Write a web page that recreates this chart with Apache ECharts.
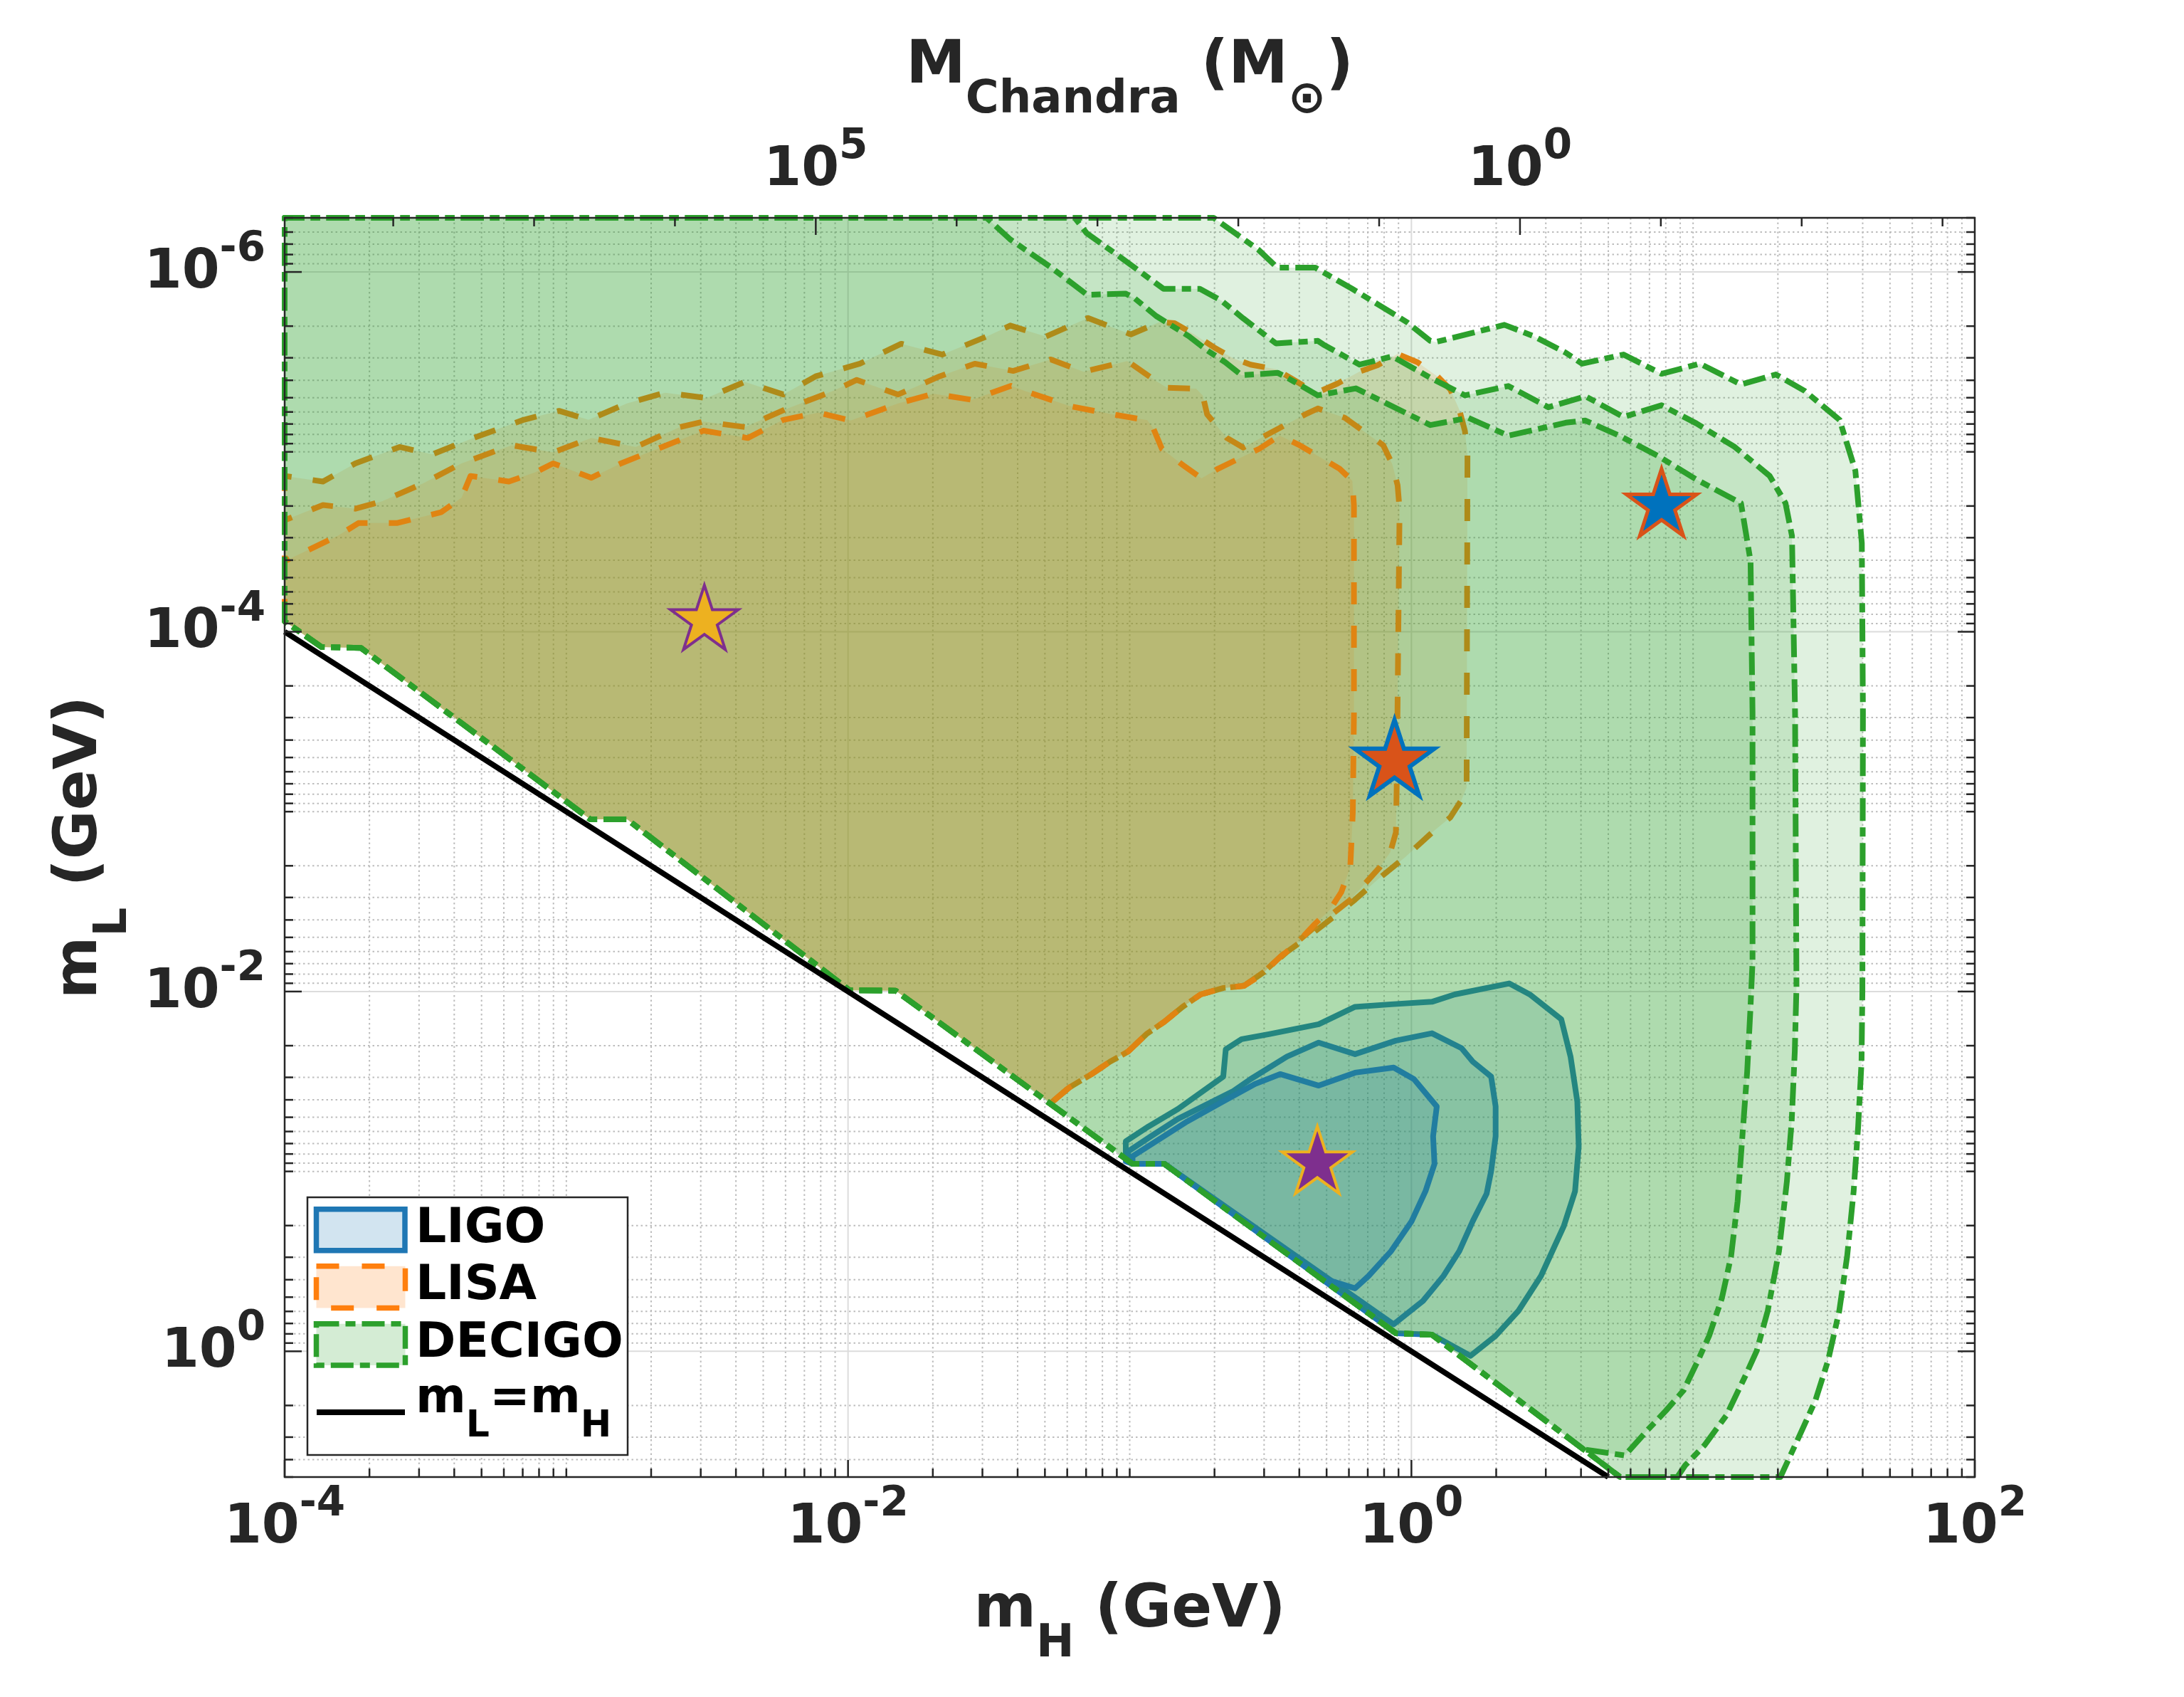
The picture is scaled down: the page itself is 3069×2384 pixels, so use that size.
<!DOCTYPE html>
<html><head><meta charset="utf-8">
<script src="https://cdn.jsdelivr.net/npm/echarts@6/dist/echarts.min.js"></script>
<style>html,body{margin:0;padding:0;background:#fff}#c{width:3069px;height:2384px}</style>
</head><body><div id="c"></div>
<script>
// ---------- DATA (all contour points are [log10 m_H, log10 m_L], GeV) ----------
const X_RANGE = [1e-4, 1e2];          // m_H axis limits (GeV)
const Y_RANGE = [5e-7, 5];            // m_L axis limits (GeV), reversed axis
const CHANDRA_LOG10_AT_1GEV = 0.771;  // log10 M_Chandra (Msun) at m_H = 1 GeV, M ~ m_H^-2
const TOP_LABELS = [0, 5];            // log10 M_Chandra labels
const LINE_MH = [1e-4, 5];            // m_L = m_H reference line
const LINE_ML = [1e-4, 5];

// DECIGO shared lower boundary (near the diagonal)
const DEC_LOWER = [[-4.000,-4.058],[-3.869,-3.915],[-3.729,-3.910],[-2.915,-2.957],[-2.784,-2.957],[-1.995,-2.007],[-1.831,-2.005],[-0.990,-1.042],[-0.877,-1.042],[-0.055,-0.100],[0.073,-0.092],[0.611,0.545]];
const DEC_BOTTOM_CORNER = [[0.741,0.699]];
const DEC_TOP_LEFT = [[-4.000,-6.301]];
const D1_RIGHT = [[-1.508,-6.301],[-1.424,-6.181],[-1.278,-6.024],[-1.151,-5.873],[-1.015,-5.880],[-0.983,-5.854],[-0.906,-5.755],[-0.790,-5.643],[-0.725,-5.564],[-0.661,-5.498],[-0.603,-5.426],[-0.474,-5.439],[-0.442,-5.413],[-0.332,-5.314],[-0.197,-5.353],[0.067,-5.149],[0.202,-5.189],[0.344,-5.090],[0.548,-5.162],[0.618,-5.174],[0.742,-5.087],[0.877,-4.976],[1.012,-4.846],[1.170,-4.715],[1.204,-4.392],[1.211,-3.550],[1.211,-2.164],[1.203,-1.887],[1.192,-1.555],[1.175,-1.195],[1.158,-0.834],[1.135,-0.530],[1.102,-0.294],[1.057,-0.086],[1.017,0.052],[0.966,0.218],[0.904,0.329],[0.837,0.440],[0.758,0.579]];
const D2_RIGHT = [[-1.195,-6.301],[-1.153,-6.216],[-1.017,-6.064],[-0.880,-5.906],[-0.751,-5.906],[-0.674,-5.840],[-0.597,-5.742],[-0.481,-5.603],[-0.332,-5.617],[-0.313,-5.597],[-0.184,-5.485],[-0.068,-5.531],[0.074,-5.406],[0.190,-5.314],[0.344,-5.366],[0.486,-5.248],[0.618,-5.309],[0.753,-5.194],[0.888,-5.259],[1.012,-5.158],[1.148,-5.027],[1.272,-4.866],[1.328,-4.715],[1.351,-4.533],[1.362,-3.550],[1.367,-2.026],[1.361,-1.666],[1.350,-1.278],[1.333,-0.945],[1.305,-0.557],[1.265,-0.225],[1.226,-0.003],[1.186,0.135],[1.118,0.357],[1.040,0.523],[0.972,0.634],[0.944,0.699]];
const D3_RIGHT = [[-0.702,-6.301],[-0.544,-6.125],[-0.476,-6.024],[-0.341,-6.024],[-0.210,-5.906],[-0.120,-5.821],[-0.017,-5.722],[0.067,-5.617],[0.088,-5.611],[0.330,-5.706],[0.434,-5.643],[0.548,-5.551],[0.606,-5.490],[0.753,-5.541],[0.888,-5.434],[1.024,-5.490],[1.170,-5.375],[1.294,-5.430],[1.396,-5.339],[1.520,-5.178],[1.576,-4.896],[1.599,-4.493],[1.603,-3.550],[1.601,-1.998],[1.598,-1.610],[1.586,-1.250],[1.570,-0.890],[1.547,-0.530],[1.519,-0.225],[1.479,0.052],[1.434,0.274],[1.378,0.468],[1.310,0.699]];

// LISA contours (outline from left edge, across the top, down the right side)
const L1_EDGE = [[-4.000,-4.392],[-3.811,-4.533],[-3.738,-4.604],[-3.602,-4.604],[-3.445,-4.664],[-3.372,-4.745],[-3.340,-4.866],[-3.204,-4.835],[-3.110,-4.886],[-3.047,-4.936],[-2.911,-4.856],[-2.806,-4.936],[-2.660,-5.027],[-2.513,-5.118],[-2.356,-5.077],[-2.230,-5.178],[-2.105,-5.218],[-1.990,-5.174],[-1.822,-5.269],[-1.696,-5.323],[-1.560,-5.289],[-1.421,-5.367],[-1.376,-5.340],[-1.215,-5.255],[-1.060,-5.208],[-0.938,-5.176],[-0.916,-5.130],[-0.886,-5.018],[-0.816,-4.932],[-0.745,-4.853],[-0.687,-4.906],[-0.539,-5.018],[-0.468,-5.090],[-0.397,-5.037],[-0.255,-4.906],[-0.210,-4.840],[-0.204,-4.702],[-0.204,-3.550],[-0.208,-2.996],[-0.217,-2.691],[-0.249,-2.552],[-0.289,-2.455],[-0.345,-2.372],[-0.410,-2.262],[-0.466,-2.192],[-0.530,-2.095]];
const L2_EDGE = [[-4.000,-4.620],[-3.864,-4.704],[-3.749,-4.684],[-3.654,-4.725],[-3.508,-4.825],[-3.372,-4.936],[-3.194,-5.037],[-3.047,-4.997],[-2.911,-5.077],[-2.754,-5.027],[-2.597,-5.138],[-2.513,-5.168],[-2.366,-5.138],[-2.220,-5.238],[-2.052,-5.339],[-1.969,-5.400],[-1.822,-5.319],[-1.675,-5.420],[-1.550,-5.490],[-1.414,-5.450],[-1.280,-5.514],[-1.164,-5.445],[-1.009,-5.505],[-0.906,-5.393],[-0.867,-5.356],[-0.764,-5.351],[-0.741,-5.314],[-0.725,-5.208],[-0.655,-5.077],[-0.597,-5.024],[-0.519,-5.090],[-0.377,-5.208],[-0.332,-5.241],[-0.236,-5.189],[-0.100,-5.037],[-0.068,-4.932],[-0.049,-4.814],[-0.042,-4.682],[-0.052,-3.162],[-0.055,-2.885],[-0.075,-2.774],[-0.112,-2.691],[-0.160,-2.608],[-0.216,-2.511],[-0.273,-2.441],[-0.350,-2.350],[-0.440,-2.230],[-0.530,-2.100]];
const L3_EDGE = [[-4.000,-4.866],[-3.864,-4.835],[-3.749,-4.936],[-3.592,-5.027],[-3.476,-4.986],[-3.330,-5.077],[-3.152,-5.178],[-3.026,-5.228],[-2.921,-5.178],[-2.785,-5.269],[-2.649,-5.329],[-2.503,-5.299],[-2.366,-5.389],[-2.230,-5.319],[-2.115,-5.420],[-1.958,-5.490],[-1.811,-5.601],[-1.665,-5.541],[-1.508,-5.641],[-1.424,-5.702],[-1.298,-5.641],[-1.148,-5.744],[-0.996,-5.653],[-0.893,-5.722],[-0.841,-5.715],[-0.771,-5.653],[-0.700,-5.580],[-0.629,-5.518],[-0.571,-5.485],[-0.481,-5.459],[-0.416,-5.399],[-0.339,-5.327],[-0.262,-5.380],[-0.184,-5.446],[-0.120,-5.482],[-0.049,-5.544],[0.022,-5.498],[0.093,-5.419],[0.138,-5.347],[0.170,-5.235],[0.190,-5.116],[0.199,-4.985],[0.196,-3.134],[0.178,-3.065],[0.138,-2.968],[0.074,-2.885],[-0.023,-2.746],[-0.120,-2.622],[-0.200,-2.511],[-0.265,-2.428],[-0.345,-2.331],[-0.442,-2.220],[-0.523,-2.109]];
const LISA_LOWER = [[-0.595,-2.031],[-0.667,-2.020],[-0.748,-1.984],[-0.812,-1.915],[-0.877,-1.832],[-0.941,-1.763],[-1.006,-1.666],[-1.070,-1.610],[-1.135,-1.541],[-1.215,-1.466],[-1.280,-1.380]];

// LIGO contours (closed)
const G1 = [[-0.990,-1.084],[-0.893,-1.181],[-0.796,-1.278],[-0.668,-1.389],[-0.555,-1.486],[-0.466,-1.541],[-0.329,-1.477],[-0.200,-1.549],[-0.063,-1.577],[0.009,-1.513],[0.090,-1.361],[0.077,-1.195],[0.082,-1.042],[0.050,-0.890],[0.001,-0.724],[-0.072,-0.557],[-0.152,-0.419],[-0.200,-0.350],[-0.313,-0.405],[-0.877,-1.042],[-0.990,-1.042]];
const G2 = [[-1.006,-1.111],[-0.925,-1.195],[-0.829,-1.292],[-0.635,-1.444],[-0.571,-1.513],[-0.442,-1.638],[-0.329,-1.716],[-0.200,-1.652],[-0.055,-1.727],[0.073,-1.768],[0.178,-1.685],[0.218,-1.610],[0.283,-1.527],[0.299,-1.361],[0.299,-1.195],[0.283,-1.001],[0.267,-0.876],[0.218,-0.724],[0.170,-0.557],[0.114,-0.419],[0.041,-0.280],[-0.063,-0.150],[-0.877,-1.042],[-0.990,-1.042],[-1.006,-1.080]];
const G3 = [[-1.014,-1.167],[-0.933,-1.250],[-0.829,-1.347],[-0.668,-1.527],[-0.659,-1.679],[-0.603,-1.735],[-0.506,-1.763],[-0.329,-1.818],[-0.200,-1.915],[-0.072,-1.929],[0.073,-1.943],[0.154,-1.984],[0.347,-2.045],[0.420,-1.984],[0.532,-1.846],[0.565,-1.638],[0.589,-1.388],[0.594,-1.139],[0.581,-0.890],[0.541,-0.696],[0.460,-0.419],[0.380,-0.225],[0.299,-0.086],[0.210,0.025],[0.073,-0.092],[-0.055,-0.100],[-0.877,-1.042],[-0.990,-1.042],[-1.014,-1.056]];

// Benchmark stars [log10 m_H, log10 m_L]
const STAR_POS = [[-2.51,-4.08],[-0.06,-3.30],[0.888,-4.72],[-0.334,-1.064]];
const STAR_FILL = ['#EDB120','#D95319','#0072BD','#7E2F8E'];
const STAR_EDGE = ['#7E2F8E','#0072BD','#D95319','#EDB120'];
const STAR_SIZE = [95,112,99,99];
const STAR_EDGE_W = [4,6,5,4];

const LEGEND_NAMES = ['LIGO','LISA','DECIGO'];

// ---------- STYLE ----------
const FONT = '"DejaVu Sans", sans-serif';
const AX = '#262626';
const C_BLUE='#1f77b4', C_ORANGE='#ff7f0e', C_GREEN='#2ca02c';
const F_BLUE='rgba(31,119,180,0.15)', F_ORANGE='rgba(255,127,14,0.15)', F_GREEN='rgba(44,160,44,0.15)';
const LW = 8;
const DASH_LISA = [31, 30];
const DASH_DEC = [32, 9, 13, 9];

const lg = p => [Math.pow(10, p[0]), Math.pow(10, p[1])];
const rev = a => a.slice().reverse();
const decLowerLeftOf = x => DEC_LOWER.filter(p => p[0] < x);

function areaSeries(name, fillPts, strokePts, fillColor, lineColor, dash, z) {
  return {
    type: 'custom', name, xAxisIndex: 0, yAxisIndex: 0, z, silent: true, clip: false,
    data: [[1, 1e-3]],
    renderItem(params, api) {
      const px = pts => pts.map(p => api.coord(lg(p)));
      const ch = [{ type: 'polygon', shape: { points: px(fillPts) },
        style: { fill: fillColor, stroke: strokePts ? null : lineColor, lineWidth: LW, lineDash: dash, lineJoin: 'round' } }];
      if (strokePts) ch.push({ type: 'polyline', shape: { points: px(strokePts) },
        style: { fill: null, stroke: lineColor, lineWidth: LW, lineDash: dash, lineJoin: 'round' } });
      return { type: 'group', children: ch };
    }
  };
}
// start on the shared lower boundary so all DECIGO contours have the same dash phase there
function decPoly(right, toBottom) {
  return rev(DEC_LOWER).concat(DEC_TOP_LEFT, right, toBottom ? DEC_BOTTOM_CORNER : []);
}
function lisaFill(edge) { return edge.concat(LISA_LOWER, rev(decLowerLeftOf(-1.28))); }
function lisaStroke(edge) { return [DEC_LOWER[0]].concat(edge, LISA_LOWER); }

function logTicks(lo, hi) {
  const out = [];
  for (let e = Math.floor(Math.log10(lo)) - 1; e <= Math.ceil(Math.log10(hi)); e++) {
    for (let k = 1; k <= 9; k++) {
      const v = k * Math.pow(10, e);
      if (v >= lo * (1 - 1e-9) && v <= hi * (1 + 1e-9)) out.push({ v, major: k === 1 && e % 2 === 0 });
    }
  }
  return out;
}
const XT = logTicks(X_RANGE[0], X_RANGE[1]);
const YT = logTicks(Y_RANGE[0], Y_RANGE[1]);
const TOP_MIN = CHANDRA_LOG10_AT_1GEV - 2 * Math.log10(X_RANGE[1]);
const TOP_MAX = CHANDRA_LOG10_AT_1GEV - 2 * Math.log10(X_RANGE[0]);

const gridSeries = {
  type: 'custom', xAxisIndex: 0, yAxisIndex: 0, z: 1, silent: true, clip: false, data: [[1, 1e-3]],
  renderItem(params, api) {
    const cs = params.coordSys, ch = [];
    const st = t => t.major ? { stroke: '#dcdcdc', lineWidth: 2 } : { stroke: '#bdbdbd', lineWidth: 2, lineDash: [2.5, 4] };
    XT.forEach(t => { const x = api.coord([t.v, 1])[0];
      ch.push({ type: 'line', shape: { x1: x, y1: cs.y, x2: x, y2: cs.y + cs.height }, style: st(t) }); });
    YT.forEach(t => { const y = api.coord([1, t.v])[1];
      ch.push({ type: 'line', shape: { x1: cs.x, y1: y, x2: cs.x + cs.width, y2: y }, style: st(t) }); });
    return { type: 'group', children: ch };
  }
};
const frameSeries = {
  type: 'custom', xAxisIndex: 0, yAxisIndex: 0, z: 90, silent: true, clip: false, data: [[1, 1e-3]],
  renderItem(params, api) {
    const cs = params.coordSys, ch = [], s = { stroke: AX, lineWidth: 2.5 };
    const B = cs.y + cs.height, R = cs.x + cs.width;
    XT.forEach(t => { const x = api.coord([t.v, 1])[0], L = t.major ? 24 : 12;
      ch.push({ type: 'line', shape: { x1: x, y1: B, x2: x, y2: B - L }, style: s }); });
    YT.forEach(t => { const y = api.coord([1, t.v])[1], L = t.major ? 24 : 12;
      ch.push({ type: 'line', shape: { x1: cs.x, y1: y, x2: cs.x + L, y2: y }, style: s });
      ch.push({ type: 'line', shape: { x1: R, y1: y, x2: R - L, y2: y }, style: s }); });
    ch.push({ type: 'rect', shape: { x: cs.x, y: cs.y, width: cs.width, height: cs.height }, style: { fill: null, stroke: AX, lineWidth: 2.5 } });
    return { type: 'group', children: ch };
  }
};
const topTickSeries = {
  type: 'custom', xAxisIndex: 1, yAxisIndex: 0, z: 90, silent: true, clip: false, data: [[0, 1e-3]],
  renderItem(params, api) {
    const cs = params.coordSys, ch = [];
    for (let k = Math.ceil(TOP_MIN); k <= Math.floor(TOP_MAX); k++) {
      const x = api.coord([k, 1])[0], L = (k % 5 === 0) ? 24 : 12;
      ch.push({ type: 'line', shape: { x1: x, y1: cs.y, x2: x, y2: cs.y + L }, style: { stroke: AX, lineWidth: 2.5 } });
    }
    return { type: 'group', children: ch };
  }
};

function starPath() {
  let d = '';
  for (let i = 0; i < 10; i++) {
    const a = -Math.PI / 2 + i * Math.PI / 5, r = i % 2 ? 0.382 : 1;
    d += (i ? 'L' : 'M') + (r * Math.cos(a)).toFixed(4) + ' ' + (r * Math.sin(a)).toFixed(4) + ' ';
  }
  return 'path://' + d + 'Z';
}

const tickRich = {
  b: { fontFamily: FONT, fontWeight: 'bold', fontSize: 76, lineHeight: 80, color: AX, verticalAlign: 'bottom' },
  s: { fontFamily: FONT, fontWeight: 'bold', fontSize: 58, lineHeight: 60, color: AX, verticalAlign: 'bottom', padding: [0, 0, 42, 0] }
};
const titleRich = {
  a: { fontFamily: FONT, fontWeight: 'bold', fontSize: 84, lineHeight: 90, color: AX, verticalAlign: 'top' },
  s: { fontFamily: FONT, fontWeight: 'bold', fontSize: 64, lineHeight: 68, color: AX, verticalAlign: 'top', padding: [57, 0, 0, 0] }
};
function powLabel(v) {
  const e = Math.log10(v), r = Math.round(e);
  if (Math.abs(e - r) > 1e-6 || r % 2 !== 0) return '';
  return '{b|10}{s|' + r + '}';
}

const chart = echarts.init(document.getElementById('c'), null, { renderer: 'canvas' });
const series = [
  gridSeries,
  areaSeries('LIGO 3', G3, null, F_BLUE, C_BLUE, null, 10),
  areaSeries('LISA 3', lisaFill(L3_EDGE), lisaStroke(L3_EDGE), F_ORANGE, C_ORANGE, DASH_LISA, 11),
  areaSeries('DECIGO 3', decPoly(D3_RIGHT, true), null, F_GREEN, C_GREEN, DASH_DEC, 12),
  areaSeries('LIGO 2', G2, null, F_BLUE, C_BLUE, null, 13),
  areaSeries('LISA 2', lisaFill(L2_EDGE), lisaStroke(L2_EDGE), F_ORANGE, C_ORANGE, DASH_LISA, 14),
  areaSeries('DECIGO 2', decPoly(D2_RIGHT, true), null, F_GREEN, C_GREEN, DASH_DEC, 15),
  areaSeries('LIGO 1', G1, null, F_BLUE, C_BLUE, null, 16),
  areaSeries('LISA 1', lisaFill(L1_EDGE), lisaStroke(L1_EDGE), F_ORANGE, C_ORANGE, DASH_LISA, 17),
  areaSeries('DECIGO 1', decPoly(D1_RIGHT, false), null, F_GREEN, C_GREEN, DASH_DEC, 18),
  { type: 'line', name: 'mL=mH', xAxisIndex: 0, yAxisIndex: 0, z: 40, silent: true, symbol: 'none',
    data: LINE_MH.map((x, i) => [x, LINE_ML[i]]), lineStyle: { color: '#000', width: 8 } },
  { type: 'scatter', xAxisIndex: 0, yAxisIndex: 0, z: 50, silent: true, symbol: starPath(), symbolKeepAspect: true,
    data: STAR_POS.map((p, i) => ({ value: lg(p), symbolSize: STAR_SIZE[i],
      itemStyle: { color: STAR_FILL[i], borderColor: STAR_EDGE[i], borderWidth: STAR_EDGE_W[i], opacity: 1 } })) },
  frameSeries, topTickSeries
];

const LX = 584;
const legendGraphics = [
  { type: 'rect', shape: { x: 432, y: 1682, width: 450, height: 362 }, style: { fill: '#fff', stroke: AX, lineWidth: 2.5 }, z: 100 },
  { type: 'rect', shape: { x: 444.5, y: 1698.7, width: 124.5, height: 58 }, style: { fill: '#d2e4f0', stroke: C_BLUE, lineWidth: 7.5 }, z: 101 },
  { type: 'rect', shape: { x: 444.5, y: 1778.8, width: 125, height: 58.7 }, style: { fill: '#ffe5cf', stroke: C_ORANGE, lineWidth: 7.5, lineDash: [32, 32] }, z: 101 },
  { type: 'rect', shape: { x: 444.5, y: 1859.7, width: 125, height: 58.3 }, style: { fill: '#d4ecd4', stroke: C_GREEN, lineWidth: 7.5, lineDash: [32, 9, 14, 9] }, z: 101 },
  { type: 'line', shape: { x1: 445, y1: 1984, x2: 569, y2: 1984 }, style: { stroke: '#000', lineWidth: 8 }, z: 101 },
  ...LEGEND_NAMES.map((t, i) => ({ type: 'text', x: LX, y: [1727, 1807, 1888][i], z: 102,
    style: { text: t, font: 'bold 68px ' + FONT, fill: '#000', verticalAlign: 'middle', align: 'left' } })),
  { type: 'text', x: LX, y: 1932, z: 102,
    style: { text: '{a|m}{s|L}{a|=m}{s|H}', verticalAlign: 'top', align: 'left',
      rich: { a: { fontFamily: FONT, fontWeight: 'bold', fontSize: 68, lineHeight: 72, fill: '#000', verticalAlign: 'top' },
              s: { fontFamily: FONT, fontWeight: 'bold', fontSize: 52, lineHeight: 56, fill: '#000', verticalAlign: 'top', padding: [46, 0, 0, 0] } } } }
];

chart.setOption({
  animation: false,
  backgroundColor: '#fff',
  grid: { left: 400, top: 306, width: 2375, height: 1769, containLabel: false, outerBoundsMode: 'none', show: false },
  xAxis: [
    { type: 'log', logBase: 10, min: X_RANGE[0], max: X_RANGE[1], position: 'bottom',
      axisLine: { show: false }, axisTick: { show: false }, splitLine: { show: false }, minorTick: { show: false },
      axisLabel: { formatter: powLabel, rich: tickRich, margin: 30, showMinLabel: true, showMaxLabel: true },
      name: '{a|m}{s|H}{a| (GeV)}', nameLocation: 'middle', nameGap: 146, nameTextStyle: { rich: titleRich } },
    { type: 'value', min: TOP_MIN, max: TOP_MAX, inverse: true, position: 'top',
      axisLine: { show: false }, axisTick: { show: false }, splitLine: { show: false },
      axisLabel: { customValues: TOP_LABELS, formatter: v => '{b|10}{s|' + Math.round(v) + '}', rich: tickRich, margin: 28 },
      name: '{a|M}{s|Chandra}{a| (M}{s|\u2299}{a|)}', nameLocation: 'middle', nameGap: 145, nameTextStyle: { rich: titleRich } }
  ],
  yAxis: [
    { type: 'log', logBase: 10, min: Y_RANGE[0], max: Y_RANGE[1], inverse: true,
      axisLine: { show: false }, axisTick: { show: false }, splitLine: { show: false }, minorTick: { show: false },
      axisLabel: { formatter: powLabel, rich: tickRich, margin: 27, showMinLabel: true, showMaxLabel: true },
      name: '{a|m}{s|L}{a| (GeV)}', nameLocation: 'middle', nameGap: 214, nameRotate: 90, nameTextStyle: { rich: titleRich } }
  ],
  series,
  graphic: legendGraphics
});
</script></body></html>
